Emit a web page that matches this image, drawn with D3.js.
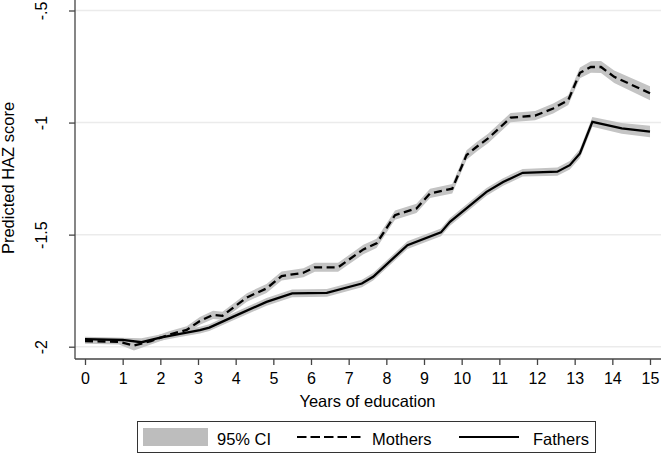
<!DOCTYPE html>
<html><head><meta charset="utf-8">
<script src="https://cdn.jsdelivr.net/npm/d3@7"></script>
<style>body{margin:0;background:#fff}svg{display:block;font-family:"Liberation Sans",Arial,sans-serif}</style>
</head><body><svg id="c" width="661" height="454"></svg>
<script>
const xTicks = [0,1,2,3,4,5,6,7,8,9,10,11,12,13,14,15];
const yTicks = [-2,-1.5,-1,-0.5];
const yTickLabels = ["-2","-1.5","-1","-.5"];
const mothersYears = [0,0.9,1.3,1.75,2.25,2.7,3.05,3.4,3.65,4.3,4.82,5.22,5.8,6.1,6.72,7.39,7.74,8.23,8.8,9.16,9.75,10.13,10.4,10.7,11.3,11.95,12.43,12.83,13.14,13.43,13.7,14.05,15];
const mothers = [-1.975,-1.978,-1.995,-1.975,-1.945,-1.925,-1.885,-1.858,-1.862,-1.78,-1.74,-1.685,-1.67,-1.646,-1.646,-1.566,-1.539,-1.413,-1.383,-1.316,-1.295,-1.145,-1.108,-1.071,-0.978,-0.969,-0.937,-0.9,-0.778,-0.752,-0.752,-0.796,-0.869];
const mothersCI = [0.012,0.012,0.022,0.015,0.015,0.016,0.017,0.018,0.018,0.019,0.02,0.02,0.02,0.02,0.02,0.021,0.021,0.021,0.021,0.021,0.021,0.021,0.021,0.021,0.021,0.021,0.022,0.022,0.024,0.026,0.027,0.028,0.031];
const fathersYears = [0,1.0,1.5,2.0,2.52,3.05,3.3,3.94,4.82,5.5,6.42,7.35,7.65,8.56,9.45,9.69,10.66,11.1,11.62,12.54,12.87,13.14,13.47,14.25,15];
const fathers = [-1.966,-1.970,-1.980,-1.960,-1.943,-1.926,-1.915,-1.866,-1.80,-1.762,-1.760,-1.718,-1.688,-1.547,-1.49,-1.443,-1.309,-1.265,-1.224,-1.219,-1.19,-1.138,-0.997,-1.026,-1.04];
const fathersCI = [0.01,0.01,0.018,0.014,0.014,0.015,0.015,0.016,0.017,0.017,0.017,0.017,0.017,0.017,0.017,0.017,0.017,0.017,0.017,0.018,0.019,0.02,0.022,0.024,0.026];
const legendLabels = ["95% CI","Mothers","Fathers"];

const svg = d3.select("#c");
const x = d3.scaleLinear().domain([0,15]).range([85,650]);
const y = d3.scaleLinear().domain([-2,-0.5]).range([346.7,10.5]);
const axisColor = "#444", bandColor = "#c4c4c4";
const FONT = "Liberation Sans, Arial, sans-serif";

// gridlines
svg.append("g").selectAll("line").data(yTicks).join("line")
  .attr("x1",75).attr("x2",661).attr("y1",d=>y(d)).attr("y2",d=>y(d))
  .attr("stroke","#ebebeb").attr("stroke-width",1.5);

const mData = mothersYears.map((t,i)=>({t,v:mothers[i],h:mothersCI[i]}));
const fData = fathersYears.map((t,i)=>({t,v:fathers[i],h:fathersCI[i]}));
const area = d3.area().x(d=>x(d.t)).y0(d=>y(d.v-d.h)).y1(d=>y(d.v+d.h));
const line = d3.line().x(d=>x(d.t)).y(d=>y(d.v));
svg.append("path").attr("d",area(mData)).attr("fill",bandColor);
svg.append("path").attr("d",area(fData)).attr("fill",bandColor);
svg.append("path").attr("d",line(mData)).attr("fill","none").attr("stroke","#000").attr("stroke-width",2.3).attr("stroke-dasharray","8,4.5");
svg.append("path").attr("d",line(fData)).attr("fill","none").attr("stroke","#000").attr("stroke-width",2.3);

// axes
const xAxis = d3.axisBottom(x).tickValues(xTicks).tickSize(6).tickPadding(4).tickSizeOuter(0);
const gx = svg.append("g").attr("transform","translate(0,359)").call(xAxis);
gx.select(".domain").remove();
gx.append("line").attr("x1",75).attr("x2",661).attr("stroke",axisColor).attr("stroke-width",1.3);
gx.selectAll(".tick line").attr("stroke",axisColor).attr("stroke-width",1.3);
gx.selectAll(".tick text").attr("fill","#000").attr("font-size",16).attr("font-family",FONT).attr("dy","0.93em");

const yAxis = d3.axisLeft(y).tickValues(yTicks).tickFormat((d,i)=>yTickLabels[i]).tickSize(6).tickSizeOuter(0);
const gy = svg.append("g").attr("transform","translate(75,0)").call(yAxis);
gy.select(".domain").remove();
gy.append("line").attr("y1",0).attr("y2",359).attr("stroke",axisColor).attr("stroke-width",1.3);
gy.selectAll(".tick line").attr("stroke",axisColor).attr("stroke-width",1.3);
gy.selectAll(".tick text").attr("fill","#000").attr("font-size",16).attr("font-family",FONT)
  .attr("x",null).attr("dy",null).attr("text-anchor","middle").attr("transform","translate(-28,0) rotate(-90)");

// titles
svg.append("text").attr("x",367.5).attr("y",406.5).attr("text-anchor","middle").attr("font-size",16.5).text("Years of education");
svg.append("text").attr("transform","translate(13.5,178) rotate(-90)").attr("text-anchor","middle").attr("font-size",16.5).text("Predicted HAZ score");

// legend
const lg = svg.append("g");
lg.append("rect").attr("x",137.5).attr("y",421.5).attr("width",458).attr("height",31).attr("fill","#fff").attr("stroke","#333").attr("stroke-width",1);
lg.append("rect").attr("x",143).attr("y",428).attr("width",65).attr("height",18).attr("fill","#bdbdbd");
lg.append("line").attr("x1",297).attr("x2",361).attr("y1",437).attr("y2",437).attr("stroke","#000").attr("stroke-width",2).attr("stroke-dasharray","9.5,4");
lg.append("line").attr("x1",459).attr("x2",519).attr("y1",437).attr("y2",437).attr("stroke","#000").attr("stroke-width",2);
const lx = [217,372,533];
lg.selectAll("text").data(legendLabels).join("text").attr("x",(d,i)=>lx[i]).attr("y",444.5).attr("font-size",16.5).text(d=>d);
</script></body></html>
